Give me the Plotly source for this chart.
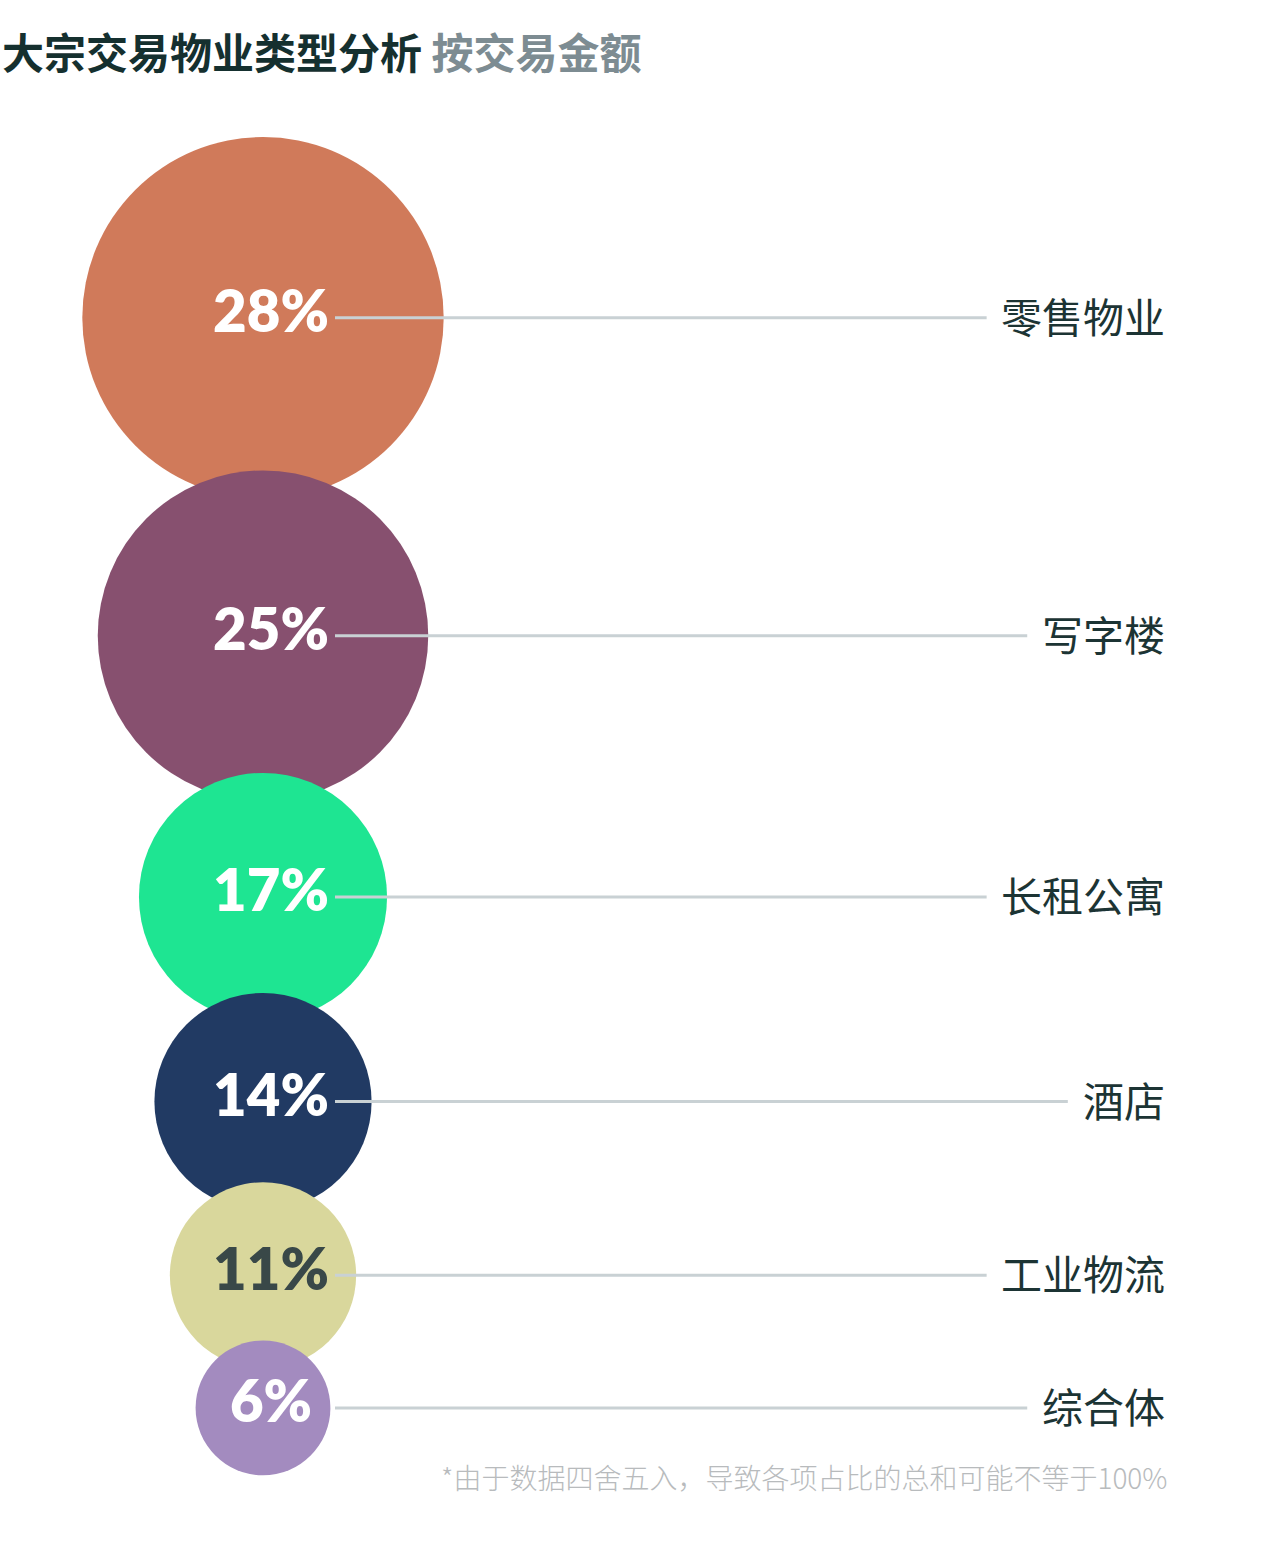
import plotly.graph_objects as go

# ---- data ----
categories = ["零售物业", "写字楼", "长租公寓", "酒店", "工业物流", "综合体"]
shares = [28, 25, 17, 14, 11, 6]
title_main = "大宗交易物业类型分析"
title_sub = "按交易金额"
footnote = "*由于数据四舍五入，导致各项占比的总和可能不等于100%"

# ---- style ----
fill_colors = ["#d07a5a", "#87506f", "#1ee592", "#213a63", "#d9d79c", "#a38bbf"]
pct_colors = ["#ffffff", "#ffffff", "#ffffff", "#ffffff", "#394848", "#ffffff"]
W, H = 1280, 1545
CX = 263            # common centre of circles
TEXT_DX = 8         # small shift of percentage labels
TOP = 137           # top edge of first circle
OVERLAP = 28        # overlap between neighbouring circles
R_BASE, R_SLOPE = 36.5, 5.15   # radius scale (px) as a function of share
LINE_X0 = 335
LABEL_RIGHT = 1167
LABEL_SIZE = 41
LINE_GAP = 18

radii = [R_BASE + R_SLOPE * v for v in shares]
centers = []
for i, r in enumerate(radii):
    if i == 0:
        centers.append(TOP + r)
    else:
        centers.append(centers[-1] + radii[i - 1] + r - OVERLAP)

pct_text = [f"{v}%" for v in shares]

fig = go.Figure()

# circles
fig.add_trace(go.Scatter(
    x=[CX] * len(shares), y=centers, mode="markers",
    marker=dict(size=[2 * r for r in radii], sizemode="diameter",
                color=fill_colors, line=dict(width=0), opacity=1),
    hoverinfo="skip", showlegend=False,
))

# leader lines
lx, ly = [], []
for cat, yc in zip(categories, centers):
    x_end = LABEL_RIGHT - len(cat) * LABEL_SIZE * 0.99 - LINE_GAP
    lx += [LINE_X0, x_end, None]
    ly += [yc, yc, None]
fig.add_trace(go.Scatter(
    x=lx, y=ly, mode="lines", line=dict(color="#c9d1d4", width=3),
    hoverinfo="skip", showlegend=False,
))

# percentages
fig.add_trace(go.Scatter(
    x=[CX + TEXT_DX] * len(shares), y=centers, mode="text", text=pct_text,
    textposition="middle center",
    textfont=dict(family="Lato", size=58, color=pct_colors, weight=800),
    hoverinfo="skip", showlegend=False,
))

annotations = []
for cat, yc in zip(categories, centers):
    annotations.append(dict(
        x=LABEL_RIGHT, y=yc, xref="x", yref="y", text=cat, showarrow=False,
        xanchor="right", yanchor="middle", yshift=3,
        font=dict(family="Noto Sans CJK SC", size=LABEL_SIZE, color="#1c3434"),
    ))

annotations.append(dict(
    x=0, y=50, xref="x", yref="y", showarrow=False, xanchor="left", yanchor="middle",
    text=f"{title_main} <span style='color:#7d8c92'>{title_sub}</span>",
    font=dict(family="Noto Sans CJK SC", size=42, color="#15302f", weight=600),
))
annotations.append(dict(
    x=1169, y=1477, xref="x", yref="y", showarrow=False, xanchor="right", yanchor="middle",
    text=footnote,
    font=dict(family="Noto Sans CJK SC", size=28, color="#b8bbbd", weight=300),
))

fig.update_layout(
    width=W, height=H, autosize=False,
    margin=dict(l=0, r=0, t=0, b=0),
    paper_bgcolor="#ffffff", plot_bgcolor="#ffffff",
    xaxis=dict(range=[0, W], visible=False, fixedrange=True),
    yaxis=dict(range=[H, 0], visible=False, fixedrange=True),
    annotations=annotations,
    showlegend=False,
)

fig.write_html("out.html", config={"displayModeBar": False},
               post_script="document.body.style.margin='0';")
